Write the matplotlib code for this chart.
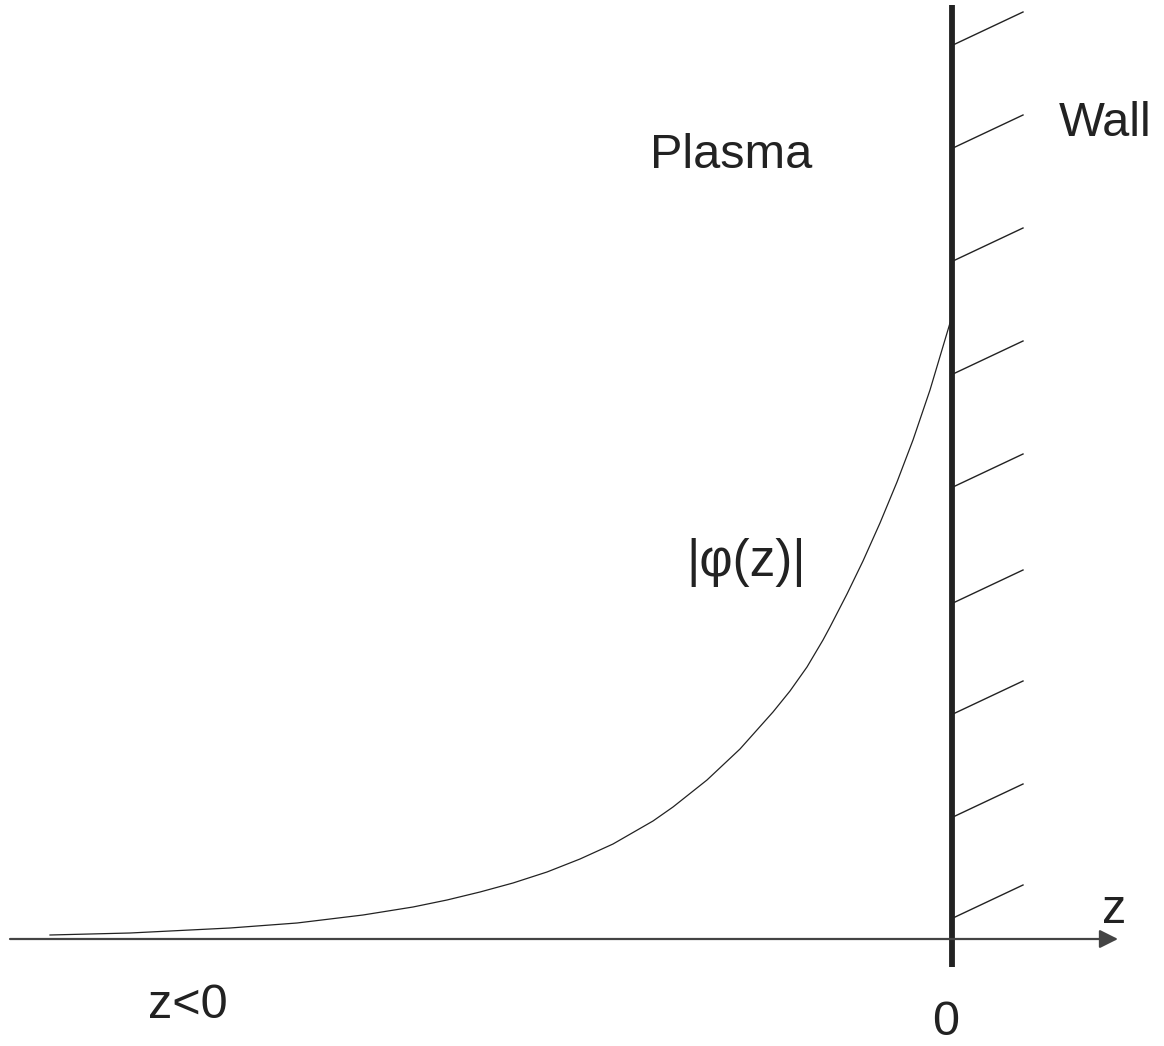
import matplotlib
matplotlib.use("Agg")
import matplotlib.pyplot as plt

plt.rcParams['font.family'] = ['Liberation Sans', 'DejaVu Sans']

# Curve |phi(z)| (pixel-like coordinates, y downwards)
curve_x = [50, 130, 230, 297, 363, 413, 447, 480, 513, 547, 580, 613, 653, 673,
           707, 740, 773, 790, 807, 823, 830, 847, 863, 880, 897, 913, 930, 950]
curve_y = [935, 933, 928, 923, 915, 907, 900, 892, 883, 872, 859, 844, 821, 807,
           780, 749, 712, 691, 667, 640, 627, 594, 561, 523, 482, 440, 390, 323]

# Wall hatch marks (y where each touches the wall)
hatch_y = [45, 148, 261, 374, 487, 603, 714, 817, 918]

# Labels
labels = ["Plasma", "Wall", "|φ(z)|", "z<0", "0", "z"]

W, H = 1164, 1046
fig = plt.figure(figsize=(W / 100, H / 100), dpi=100)
ax = fig.add_axes([0, 0, 1, 1])
ax.set_xlim(0, W)
ax.set_ylim(H, 0)
ax.axis('off')

ink = '#222222'

# z axis with arrow
ax.annotate('', xy=(1118, 939), xytext=(10, 939),
            arrowprops=dict(arrowstyle='-|>', color='#444444', lw=1.6,
                            mutation_scale=28, shrinkA=0, shrinkB=0))

# wall
wall_x = 952
ax.plot([wall_x, wall_x], [5, 967], color=ink, lw=4.2, solid_capstyle='butt')

# hatch marks
for hy in hatch_y:
    ax.plot([wall_x + 1, wall_x + 71], [hy, hy - 33], color=ink, lw=1.0)

# curve
ax.plot(curve_x, curve_y, color=ink, lw=0.9, solid_joinstyle='round')

fs = 35
ax.text(650, 168, labels[0], fontsize=fs, color=ink, ha='left', va='baseline')
ax.text(1059, 136, labels[1], fontsize=fs, color=ink, ha='left', va='baseline')
ax.text(686, 576, labels[2], fontsize=37, color=ink, ha='left', va='baseline')
ax.text(148, 1018, labels[3], fontsize=fs, color=ink, ha='left', va='baseline')
ax.text(932, 1045, labels[4], fontsize=fs, color=ink, ha='left', va='bottom')
ax.text(1102, 923, labels[5], fontsize=fs, color=ink, ha='left', va='baseline')

fig.savefig('out.png', dpi=100, facecolor='white')
